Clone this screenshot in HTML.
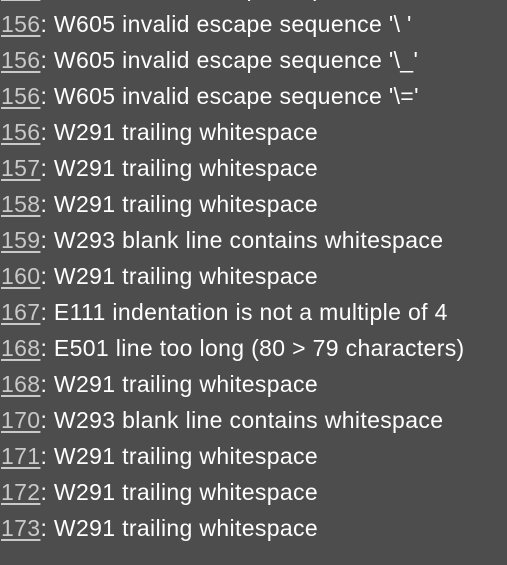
<!DOCTYPE html>
<html><head><style>
html,body{margin:0;padding:0;background:#4d4d4d;width:507px;height:565px;overflow:hidden}
.w{position:absolute;left:1px;top:-30px;font-family:"Liberation Sans",sans-serif;font-size:23px;letter-spacing:0.35px;line-height:36px;color:#fff;white-space:pre}
.n{color:#c9c9c9;text-decoration:underline;text-underline-offset:3px}
</style></head><body><div class="w"><div><span class="n">155</span>: W605 invalid escape sequence</div><div><span class="n">156</span>: W605 invalid escape sequence '\ '</div><div><span class="n">156</span>: W605 invalid escape sequence '\_'</div><div><span class="n">156</span>: W605 invalid escape sequence '\='</div><div><span class="n">156</span>: W291 trailing whitespace</div><div><span class="n">157</span>: W291 trailing whitespace</div><div><span class="n">158</span>: W291 trailing whitespace</div><div><span class="n">159</span>: W293 blank line contains whitespace</div><div><span class="n">160</span>: W291 trailing whitespace</div><div><span class="n">167</span>: E111 indentation is not a multiple of 4</div><div><span class="n">168</span>: E501 line too long (80 &gt; 79 characters)</div><div><span class="n">168</span>: W291 trailing whitespace</div><div><span class="n">170</span>: W293 blank line contains whitespace</div><div><span class="n">171</span>: W291 trailing whitespace</div><div><span class="n">172</span>: W291 trailing whitespace</div><div><span class="n">173</span>: W291 trailing whitespace</div></div></body></html>
